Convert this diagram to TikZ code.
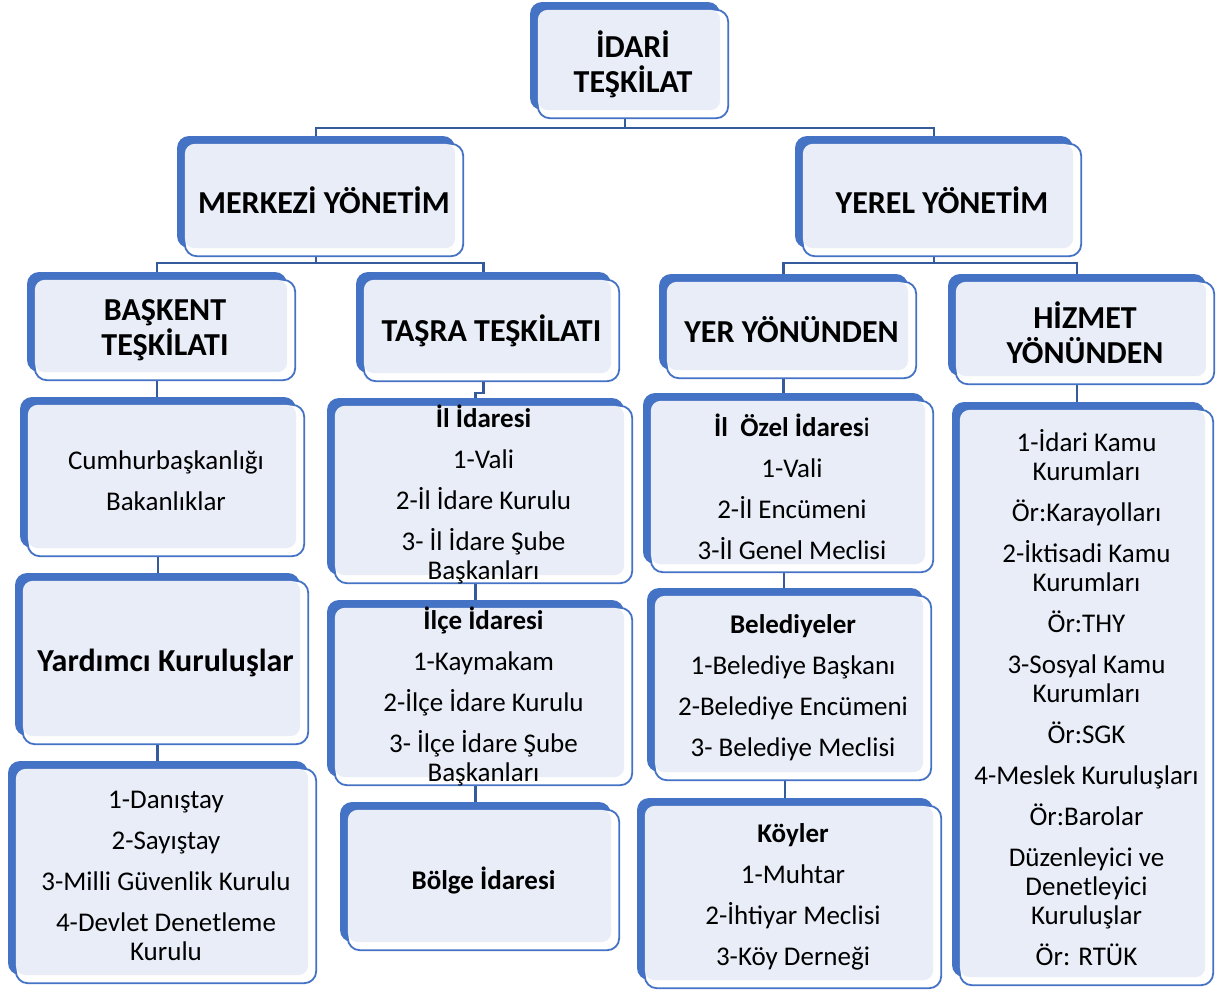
\documentclass[tikz,border=0pt]{standalone}
\usepackage{fontspec}
\setmainfont{Carlito}
\usepackage{tikz}
\usetikzlibrary{fit,calc,backgrounds}
\definecolor{boxblue}{HTML}{4472C4}
\definecolor{boxfill}{HTML}{E9EDF7}
\tikzstyle{blueback} = [fill=boxblue, rounded corners=12pt, inner sep=0pt]
\tikzstyle{outline} = [draw=boxblue, line width=1.8pt, fill=white, rounded corners=12pt]
\tikzstyle{lightface} = [fill=boxfill, rounded corners=10pt]
\tikzstyle{head} = [align=center, font={\fontsize{32}{35}\selectfont\bfseries}]
\tikzstyle{list} = [align=center, font={\fontsize{27}{29}\selectfont}]
\tikzstyle{link} = [draw=boxblue!80!black, line width=2.2pt]

% name, x1, y1, x2, y2, style, text
\newcommand{\orgbox}[7]{%
  \node[blueback, fit={(#2,#3) (#4,#5)}] (#1) {};
  \draw[outline] ($(#1.north west)+(8,8)$) rectangle ($(#1.south east)+(8,8)$);
  \fill[lightface] ($(#1.north west)+(8,8)$) rectangle (#1.south east);
  \node[#6] (#1-t) at ($(#1.center)+(8,8)$) {#7};
}

\begin{document}
\begin{tikzpicture}[x=1pt,y=-1pt]
  \useasboundingbox (0,0) rectangle (1216,991);
  % levels 1 and 2
  \orgbox{idari}{530}{2}{720}{110}{head}{İDARİ\\TEŞKİLAT}
  \orgbox{merkezi}{177}{136}{455}{248}{head}{MERKEZİ YÖNETİM}
  \orgbox{yerel}{795}{136}{1073}{248}{head}{YEREL YÖNETİM}
  % level 3
  \orgbox{baskent}{27}{272}{287}{372}{head}{BAŞKENT\\TEŞKİLATI}
  \orgbox{tasra}{356}{272}{611}{373}{head}{TAŞRA TEŞKİLATI}
  \orgbox{yer}{659}{274}{908}{370}{head}{YER YÖNÜNDEN}
  \orgbox{hizmet}{948}{274}{1206}{376}{head}{HİZMET\\YÖNÜNDEN}
  % baskent column
  \orgbox{cumhur}{20}{397}{296}{548}{list}{Cumhurbaşkanlığı\\[12pt]Bakanlıklar}
  \orgbox{yardimci}{15}{573}{300}{736}{head}{Yardımcı Kuruluşlar}
  \orgbox{danistay}{8}{761}{308}{975}{list}{1-Danıştay\\[12pt]2-Sayıştay\\[12pt]3-Milli Güvenlik Kurulu\\[12pt]4-Devlet Denetleme\\Kurulu}
  % tasra column
  \orgbox{il}{327}{398}{624}{575}{list}{\textbf{İl İdaresi}\\[12pt]1-Vali\\[12pt]2-İl İdare Kurulu\\[12pt]3- İl İdare Şube\\Başkanları}
  \orgbox{ilce}{327}{600}{624}{777}{list}{\textbf{İlçe İdaresi}\\[12pt]1-Kaymakam\\[12pt]2-İlçe İdare Kurulu\\[12pt]3- İlçe İdare Şube\\Başkanları}
  \orgbox{bolge}{340}{802}{611}{942}{list}{\textbf{Bölge İdaresi}}
  % yer column
  \orgbox{ilozel}{643}{393}{925}{564}{list}{\textbf{İl\ \ Özel İdares}i\\[12pt]1-Vali\\[12pt]2-İl Encümeni\\[12pt]3-İl Genel Meclisi}
  \orgbox{belediye}{647}{588}{923}{772}{list}{\textbf{Belediyeler}\\[12pt]1-Belediye Başkanı\\[12pt]2-Belediye Encümeni\\[12pt]3- Belediye Meclisi}
  \orgbox{koy}{637}{798}{933}{980}{list}{\textbf{Köyler}\\[12pt]1-Muhtar\\[12pt]2-İhtiyar Meclisi\\[12pt]3-Köy Derneği}
  % hizmet column
  \orgbox{kurum}{952}{402}{1205}{977}{list}{1-İdari Kamu\\Kurumları\\[12pt]Ör:Karayolları\\[12pt]2-İktisadi Kamu\\Kurumları\\[12pt]Ör:THY\\[12pt]3-Sosyal Kamu\\Kurumları\\[12pt]Ör:SGK\\[12pt]4-Meslek Kuruluşları\\[12pt]Ör:Barolar\\[12pt]Düzenleyici ve\\Denetleyici\\Kuruluşlar\\[12pt]Ör: RTÜK}
  % connectors
  \begin{scope}[on background layer]
    \draw[link] (idari.south) -- ++(0,18) -| (merkezi.north);
    \draw[link] (idari.south) -- ++(0,18) -| (yerel.north);
    \draw[link] (merkezi.south) -- ++(0,15) -| (baskent.north);
    \draw[link] (merkezi.south) -- ++(0,15) -| (tasra.north);
    \draw[link] (yerel.south) -- ++(0,15) -| (yer.north);
    \draw[link] (yerel.south) -- ++(0,15) -| (hizmet.north);
    \draw[link] (baskent.south) -- (baskent.south |- cumhur.north);
    \draw[link] (cumhur.south) -- (cumhur.south |- yardimci.north);
    \draw[link] (yardimci.south) -- (yardimci.south |- danistay.north);
    \draw[link] (tasra.south) -- ++(0,20) -| (il.north);
    \draw[link] (il.south) -- (il.south |- ilce.north);
    \draw[link] (ilce.south) -- (ilce.south |- bolge.north);
    \draw[link] (yer.south) -- (yer.south |- ilozel.north);
    \draw[link] (ilozel.south) -- (ilozel.south |- belediye.north);
    \draw[link] (belediye.south) -- (belediye.south |- koy.north);
    \draw[link] (hizmet.south) -- (hizmet.south |- kurum.north);
  \end{scope}
\end{tikzpicture}
\end{document}
